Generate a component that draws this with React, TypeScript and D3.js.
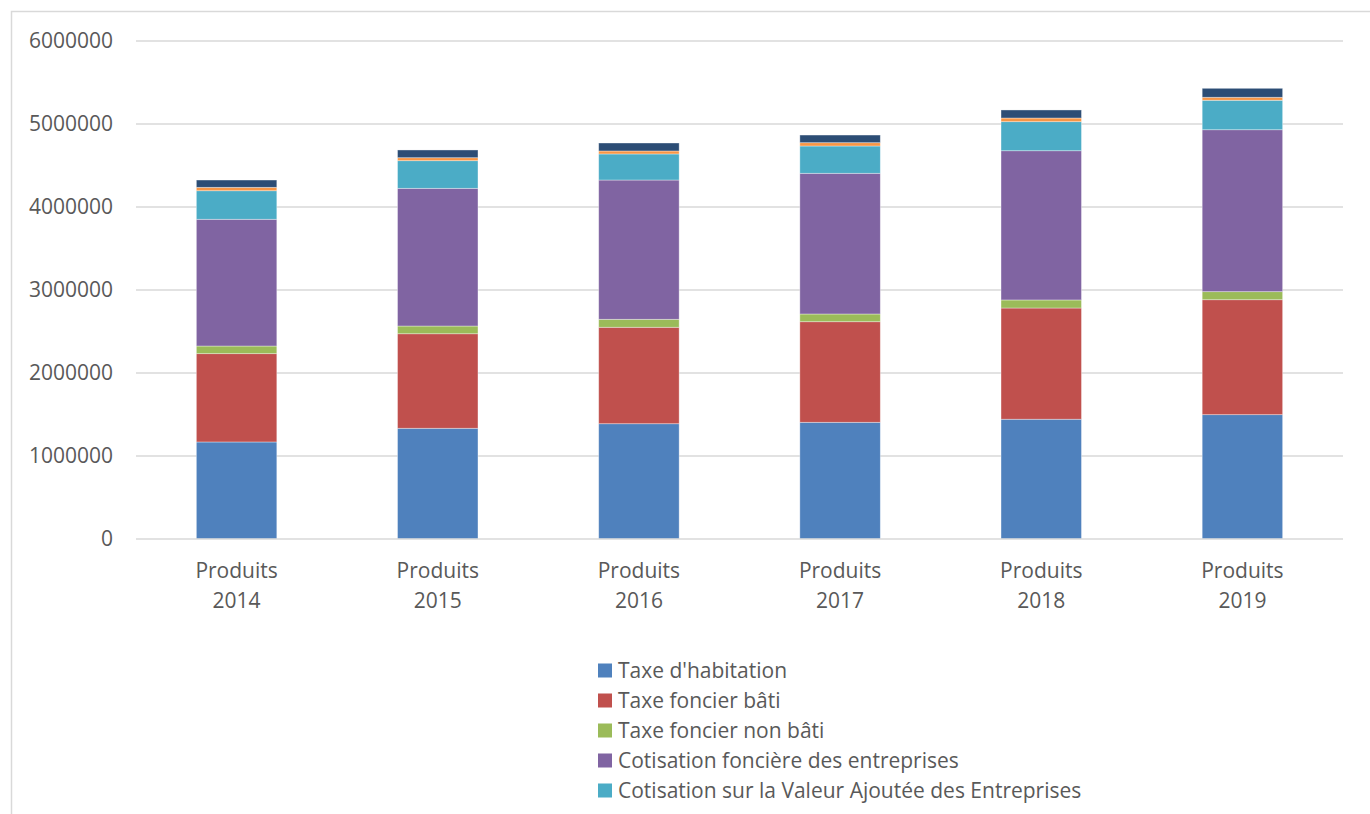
import React from "react";
import * as d3 from "d3";

const categories = ["Produits 2014", "Produits 2015", "Produits 2016", "Produits 2017", "Produits 2018", "Produits 2019"];
const seriesNames = [
  "Taxe d'habitation",
  "Taxe foncier bâti",
  "Taxe foncier non bâti",
  "Cotisation foncière des entreprises",
  "Cotisation sur la Valeur Ajoutée des Entreprises",
  "Taxe additionnelle foncier non bâti",
  "IFER",
];
const seriesColors = ["#4F81BD", "#C0504D", "#9BBB59", "#8064A2", "#4BACC6", "#F79646", "#2C4D75"];

const taxeHabitation = [1169000, 1334000, 1389000, 1406000, 1443000, 1498000];
const taxeFoncierBati = [1064000, 1139000, 1162000, 1212000, 1340000, 1385000];
const taxeFoncierNonBati = [92000, 93000, 96000, 93000, 97000, 97000];
const cfe = [1527000, 1659000, 1678000, 1695000, 1798000, 1951000];
const cvae = [344000, 333000, 314000, 329000, 350000, 355000];
const taxeAdditionnelle = [41000, 36000, 36000, 40000, 44000, 36000];
const ifer = [88000, 93000, 96000, 92000, 97000, 108000];

const yTicks = [0, 1000000, 2000000, 3000000, 4000000, 5000000, 6000000];

const W = 1370;
const H = 814;
const FONT = "'Open Sans', 'Noto Sans', sans-serif";
const TEXT = "#595959";
const FS = 21;

export default function App() {
  const values = [taxeHabitation, taxeFoncierBati, taxeFoncierNonBati, cfe, cvae, taxeAdditionnelle, ifer];
  const rows = categories.map((c, i) => {
    const r: any = { cat: c };
    seriesNames.forEach((s, k) => (r[s] = values[k][i]));
    return r;
  });
  const stacked = d3.stack<any>().keys(seriesNames)(rows);

  const x = d3.scaleBand<string>().domain(categories).range([136, 1343]).paddingInner(0.6).paddingOuter(0.3);
  const y = d3.scaleLinear().domain([0, 6000000]).range([539, 41]);

  const legendX = 598;
  const legendY0 = 670.5;
  const legendStep = 30;

  return (
    <svg width={W} height={H} style={{ position: "absolute", left: 0, top: 0, background: "#fff" }} fontFamily={FONT}>
      <rect x={0} y={0} width={W} height={H} fill="#fff" />
      <path d={`M11.5,${H} V11.5 H${W}`} fill="none" stroke="#d9d9d9" strokeWidth={1.5} />
      {yTicks.map((t) => (
        <g key={t}>
          {t > 0 && <line x1={136} x2={1343} y1={y(t)} y2={y(t)} stroke="#d9d9d9" strokeWidth={1.3} />}
          <text x={113} y={y(t)} dy="0.35em" textAnchor="end" fontSize={FS} fill={TEXT}>
            {t}
          </text>
        </g>
      ))}
      {stacked.map((layer, k) => (
        <g key={layer.key} fill={seriesColors[k]}>
          {layer.map((d, i) => (
            <rect
              key={i}
              x={x(categories[i])!}
              width={x.bandwidth()}
              y={y(d[1])}
              height={y(d[0]) - y(d[1])}
              stroke="#ffffff"
              strokeOpacity={0.45}
              strokeWidth={0.8}
            />
          ))}
        </g>
      ))}
      <line x1={136} x2={1343} y1={y(0)} y2={y(0)} stroke="#d9d9d9" strokeWidth={1.3} />
      {categories.map((c) => {
        const parts = c.split(" ");
        const cx = x(c)! + x.bandwidth() / 2;
        return (
          <text key={c} x={cx} textAnchor="middle" fontSize={FS} fill={TEXT}>
            <tspan x={cx} y={571} dy="0.35em">{parts[0]}</tspan>
            <tspan x={cx} y={601} dy="0.35em">{parts[1]}</tspan>
          </text>
        );
      })}
      {seriesNames.map((s, k) => {
        const cy = legendY0 + k * legendStep;
        if (cy + 10 > H) return null;
        return (
          <g key={s}>
            <rect x={legendX} y={cy - 7} width={14} height={14} fill={seriesColors[k]} />
            <text x={618} y={cy} dy="0.35em" fontSize={FS} fill={TEXT}>
              {s}
            </text>
          </g>
        );
      })}
    </svg>
  );
}
